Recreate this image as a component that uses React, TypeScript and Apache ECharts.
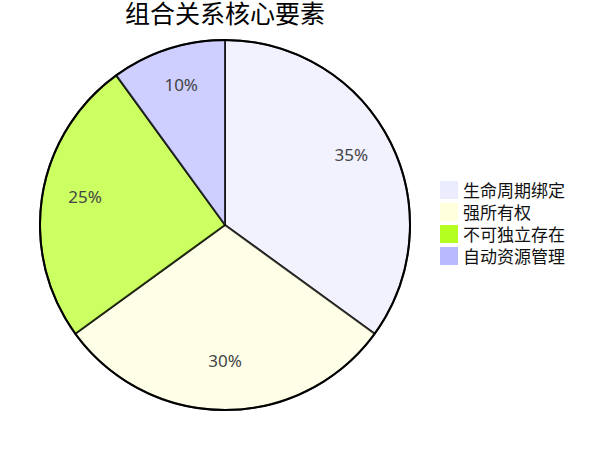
import React, { useEffect, useRef } from "react";
import * as echarts from "echarts";

const titleText = "组合关系核心要素";
const categories = ["生命周期绑定", "强所有权", "不可独立存在", "自动资源管理"];
const values = [35, 30, 25, 10];
const colors = ["#ECECFF", "#ffffde", "#b5ff20", "#b9b9ff"];

const FONT = '"Trebuchet MS", "Noto Sans", "Noto Sans CJK SC", sans-serif';

export default function App() {
  const ref = useRef<HTMLDivElement>(null);
  useEffect(() => {
    if (!ref.current) return;
    const chart = echarts.init(ref.current, null, { renderer: "svg" });
    const R = 185;
    const center = [225, 225];
    chart.setOption({
      animation: false,
      backgroundColor: "#ffffff",
      title: {
        text: titleText,
        left: 225,
        textAlign: "center",
        top: 2,
        padding: 0,
        textStyle: { fontSize: 25, lineHeight: 21, fontWeight: "normal", color: "#000", fontFamily: FONT },
      },
      legend: {
        orient: "vertical",
        left: 440,
        top: 181,
        padding: 0,
        icon: "rect",
        itemWidth: 18,
        itemHeight: 18,
        itemGap: 4,
        itemStyle: { borderWidth: 0, opacity: 1 },
        textStyle: { fontSize: 17, color: "#111", fontFamily: FONT },
        data: categories.map((name, i) => ({
          name,
          itemStyle: { color: colors[i], opacity: 1, borderWidth: 0 },
        })),
      },
      series: [
        {
          type: "pie",
          name: "main",
          center,
          radius: [0, R],
          startAngle: 90,
          clockwise: true,
          label: { show: false },
          labelLine: { show: false },
          emphasis: { disabled: true },
          itemStyle: { borderColor: "#000", borderWidth: 2, opacity: 0.7 },
          data: categories.map((name, i) => ({
            name,
            value: values[i],
            itemStyle: { color: colors[i] },
          })),
        },
        {
          type: "pie",
          name: "labels",
          center,
          radius: [R * 0.5, R],
          startAngle: 90,
          clockwise: true,
          silent: true,
          emphasis: { disabled: true },
          itemStyle: { color: "rgba(0,0,0,0)", borderWidth: 0 },
          label: {
            show: true,
            position: "inside",
            offset: [0, -6],
            fontSize: 17,
            color: "#444",
            fontFamily: FONT,
            formatter: (p: any) => `${Math.round(p.percent)}%`,
          },
          labelLine: { show: false },
          data: categories.map((name, i) => ({ name, value: values[i] })),
        },
        {
          type: "pie",
          name: "outline",
          center,
          radius: [0, R],
          silent: true,
          emphasis: { disabled: true },
          label: { show: false },
          labelLine: { show: false },
          itemStyle: { color: "rgba(0,0,0,0)", borderColor: "#000", borderWidth: 2 },
          data: [{ name: "outline", value: 1 }],
        },
      ],
    });
    return () => chart.dispose();
  }, []);
  return (
    <div
      ref={ref}
      style={{ position: "absolute", left: 0, top: 0, width: 615, height: 450 }}
    />
  );
}
